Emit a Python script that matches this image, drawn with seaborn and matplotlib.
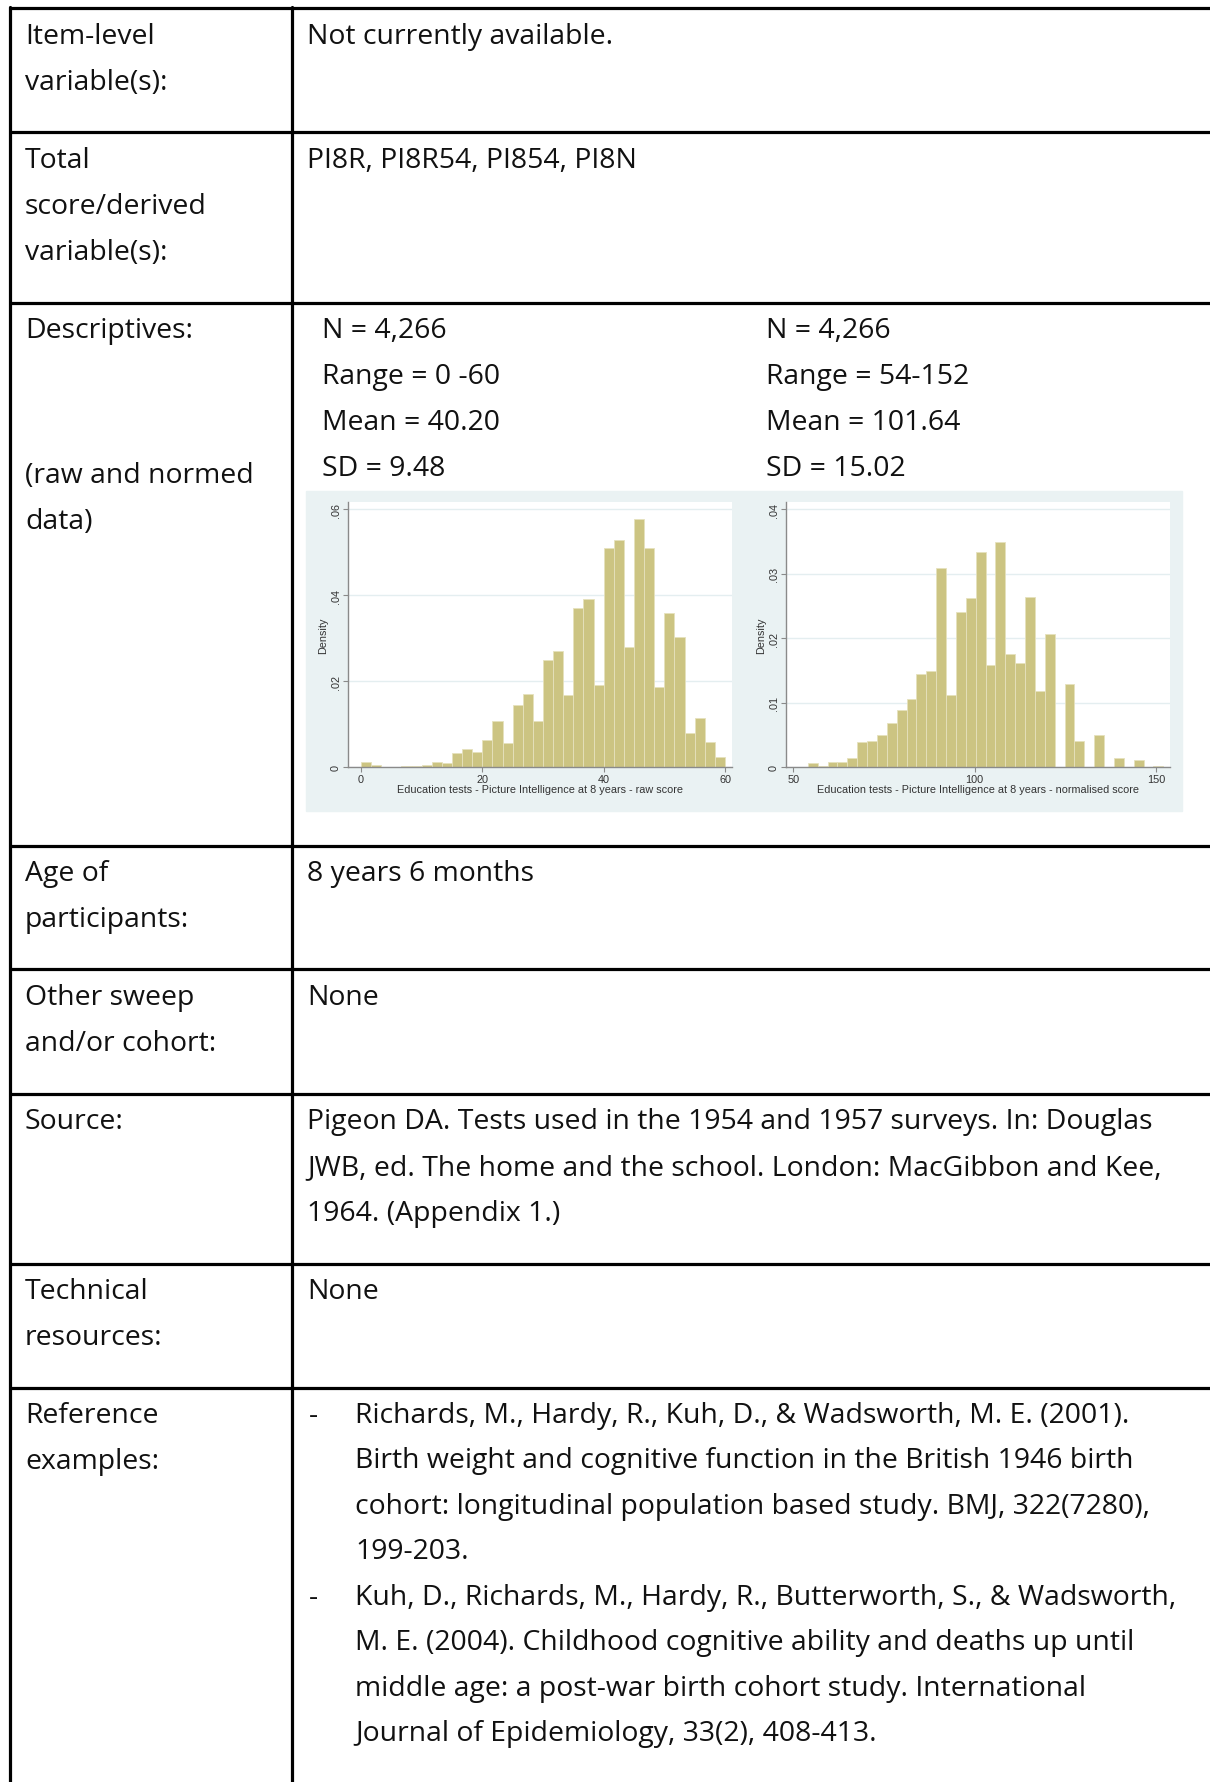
import numpy as np
import pandas as pd
import matplotlib
matplotlib.use("Agg")
import matplotlib.pyplot as plt
import seaborn as sns
from matplotlib.patches import Rectangle

# --- histogram data (densities, 36 bins each) ---
raw_range = (0, 60)
raw_density = [0.00125, 0.0005, 0.0, 0.0, 0.00015, 0.00015, 0.0005, 0.00125, 0.0009,
               0.0033, 0.0041, 0.0035, 0.0062, 0.0106, 0.0056, 0.0145, 0.0171, 0.0107,
               0.0249, 0.0269, 0.0167, 0.0370, 0.0392, 0.0192, 0.0510, 0.0528, 0.0279,
               0.0577, 0.0509, 0.0186, 0.0358, 0.0303, 0.0079, 0.0113, 0.0059, 0.0023]
raw_xticks = [0, 20, 40, 60]
raw_yticks = [0, 0.02, 0.04, 0.06]
raw_ylabels = ["0", ".02", ".04", ".06"]
raw_xlabel = "Education tests - Picture Intelligence at 8 years - raw score"

norm_range = (54, 152)
norm_density = [0.00067, 0.0002, 0.0008, 0.0007, 0.0014, 0.0038, 0.0040, 0.0050, 0.0069,
                0.0089, 0.0105, 0.0144, 0.0149, 0.0308, 0.0112, 0.0240, 0.0262, 0.0333,
                0.0158, 0.0349, 0.0176, 0.0162, 0.0264, 0.0118, 0.0206, 0.0, 0.0129,
                0.0040, 0.0, 0.0050, 0.0, 0.0014, 0.0, 0.0011, 0.0, 0.0002]
norm_xticks = [50, 100, 150]
norm_yticks = [0, 0.01, 0.02, 0.03, 0.04]
norm_ylabels = ["0", ".01", ".02", ".03", ".04"]
norm_xlabel = "Education tests - Picture Intelligence at 8 years - normalised score"

# --- table text ---
row_labels = [
    ["Item-level", "variable(s):"],
    ["Total", "score/derived", "variable(s):"],
    ["Descriptives:"],
    ["Age of", "participants:"],
    ["Other sweep", "and/or cohort:"],
    ["Source:"],
    ["Technical", "resources:"],
    ["Reference", "examples:"],
]
row_values = [
    ["Not currently available."],
    ["PI8R, PI8R54, PI854, PI8N"],
    [],
    ["8 years 6 months"],
    ["None"],
    ["Pigeon DA. Tests used in the 1954 and 1957 surveys. In: Douglas",
     "JWB, ed. The home and the school. London: MacGibbon and Kee,",
     "1964. (Appendix 1.)"],
    ["None"],
    [],
]
desc_note = ["(raw and normed", "data)"]
desc_raw = ["N = 4,266", "Range = 0 -60", "Mean = 40.20", "SD = 9.48"]
desc_norm = ["N = 4,266", "Range = 54-152", "Mean = 101.64", "SD = 15.02"]
references = [
    ["Richards, M., Hardy, R., Kuh, D., & Wadsworth, M. E. (2001).",
     "Birth weight and cognitive function in the British 1946 birth",
     "cohort: longitudinal population based study. BMJ, 322(7280),",
     "199-203."],
    ["Kuh, D., Richards, M., Hardy, R., Butterworth, S., & Wadsworth,",
     "M. E. (2004). Childhood cognitive ability and deaths up until",
     "middle age: a post-war birth cohort study. International",
     "Journal of Epidemiology, 33(2), 408-413."],
]

W, H = 1210, 1783
row_lines = [9, 133, 304, 847, 970, 1095, 1265, 1389]
line_step = 46
col1_x, col2_x = 25, 307
TXT = dict(fontsize=20.4, family=["Open Sans", "DejaVu Sans"], va="center", ha="left", color="#111111")

sns.set_theme(style="white")
plt.rcParams["font.family"] = ["Liberation Sans", "DejaVu Sans"]

fig = plt.figure(figsize=(W / 100, H / 100), dpi=100)
page = fig.add_axes([0, 0, 1, 1])
page.set_xlim(0, W)
page.set_ylim(H, 0)
page.axis("off")

# table grid
for y in row_lines:
    page.plot([9, W], [y, y], color="black", lw=2.3, solid_capstyle="butt")
page.plot([10, 10], [8, H], color="black", lw=2.3)
page.plot([292, 292], [8, H], color="black", lw=2.3)

# left column labels and right column text
first_line = [37, 161, 331, 874, 998, 1122, 1292, 1416]
for y0, labels, values in zip(first_line, row_labels, row_values):
    for i, t in enumerate(labels):
        page.text(col1_x, y0 + i * line_step, t, **TXT)
    for i, t in enumerate(values):
        page.text(col2_x, y0 + i * line_step, t, **TXT)

for i, t in enumerate(desc_note):
    page.text(col1_x, 476 + i * line_step, t, **TXT)
for i, (a, b) in enumerate(zip(desc_raw, desc_norm)):
    page.text(322, 331 + i * line_step, a, **TXT)
    page.text(766, 331 + i * line_step, b, **TXT)

y = 1416
for ref in references:
    page.text(309, y, "-", **TXT)
    for t in ref:
        page.text(355, y, t, **TXT)
        y += line_step - 0.5

# histogram panel background
page.add_patch(Rectangle((306, 492), 876, 320, color="#eaf2f3", zorder=0))

bar_color = "#ccc482"


def draw_hist(rect, rng, dens, xticks, yticks, ylabels, xlabel, xlim, ylim):
    ax = fig.add_axes(rect)
    edges = np.linspace(rng[0], rng[1], len(dens) + 1)
    df = pd.DataFrame({"score": (edges[:-1] + edges[1:]) / 2, "density": dens})
    sns.histplot(data=df, x="score", weights="density", bins=list(edges), ax=ax,
                 color=bar_color, alpha=1, edgecolor="#e6e1bd", linewidth=0.6)
    ax.set_facecolor("white")
    ax.set_xlim(*xlim)
    ax.set_ylim(*ylim)
    ax.set_axisbelow(True)
    ax.yaxis.grid(True, color="#e4eef0", lw=1)
    for s in ["top", "right"]:
        ax.spines[s].set_visible(False)
    for s in ["left", "bottom"]:
        ax.spines[s].set_color("#8a8a8a")
        ax.spines[s].set_linewidth(1)
    ax.set_xticks(xticks)
    ax.set_xticklabels([str(v) for v in xticks], fontsize=7.8, color="#333333")
    ax.set_yticks(yticks)
    ax.set_yticklabels(ylabels, fontsize=7.8, color="#333333", rotation=90, va="center")
    ax.tick_params(axis="both", which="both", direction="out", length=3.5, width=0.8,
                   color="#8a8a8a", pad=1.5, bottom=True, left=True)
    ax.set_xlabel(xlabel, fontsize=7.8, color="#333333", labelpad=0)
    ax.set_ylabel("Density", fontsize=7.8, color="#333333", labelpad=2)
    return ax


draw_hist([348 / W, 1 - 768 / H, 384 / W, 265 / H], raw_range, raw_density,
          raw_xticks, raw_yticks, raw_ylabels, raw_xlabel, (-2.14, 61.15), (0, 0.0617))
draw_hist([786 / W, 1 - 768 / H, 384 / W, 265 / H], norm_range, norm_density,
          norm_xticks, norm_yticks, norm_ylabels, norm_xlabel, (47.99, 153.86), (0, 0.0411))

fig.savefig("out.png", dpi=100)
